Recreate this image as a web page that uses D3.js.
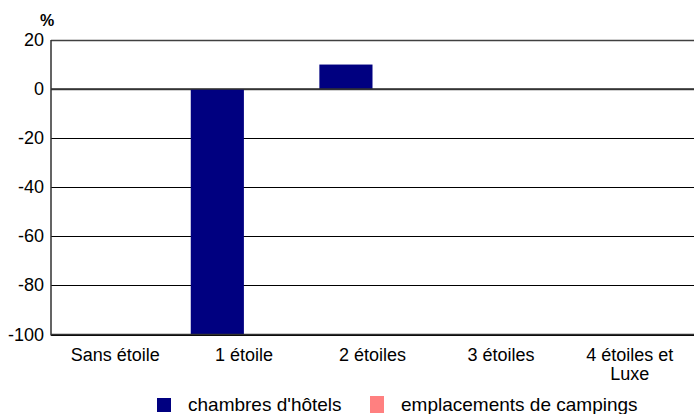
<!DOCTYPE html>
<html><head><meta charset="utf-8">
<script src="https://cdn.jsdelivr.net/npm/d3@7"></script>
<style>body{margin:0;background:#fff}svg{display:block}text{font-family:"Liberation Sans",Arial,sans-serif;fill:#000}</style>
</head><body>
<svg id="c" width="695" height="414"></svg>
<script>
const categories = ["Sans étoile", "1 étoile", "2 étoiles", "3 étoiles", "4 étoiles et Luxe"];
const categoryLines = [["Sans étoile"], ["1 étoile"], ["2 étoiles"], ["3 étoiles"], ["4 étoiles et", "Luxe"]];
const seriesNames = ["chambres d'hôtels", "emplacements de campings"];
const hotels = [null, -100, 10, null, null];
const campings = [null, null, null, null, null];
const yTicks = [20, 0, -20, -40, -60, -80, -100];
const colors = ["#000080", "#FF8080"];

const svg = d3.select("#c");
const m = {l: 51, r: 1, t: 40, b: 80};
const W = 695, H = 414;
const x0 = d3.scaleBand().domain(categories).range([m.l, W - m.r]);
const x1 = d3.scaleBand().domain(seriesNames).range([0, x0.bandwidth()]).paddingOuter(0.21);
const y = d3.scaleLinear().domain([-100, 20]).range([334.5, 40]);

// gridlines
svg.append("g").selectAll("line").data(yTicks).join("line")
  .attr("x1", m.l).attr("x2", W - m.r)
  .attr("y1", d => Math.round(y(d)) + 0.5).attr("y2", d => Math.round(y(d)) + 0.5)
  .attr("stroke", d => (d === 0 || d === 20) ? "#404040" : "#000")
  .attr("stroke-width", d => (d === 0 || d === 20) ? 1.5 : 1);

// bars
const data = [];
categories.forEach((c, i) => {
  [hotels, campings].forEach((s, j) => {
    if (s[i] !== null) data.push({c, s: seriesNames[j], v: s[i], col: colors[j]});
  });
});
svg.append("g").selectAll("rect").data(data).join("rect")
  .attr("x", d => x0(d.c) + x1(d.s))
  .attr("width", x1.bandwidth())
  .attr("y", d => y(Math.max(0, d.v)))
  .attr("height", d => Math.abs(y(d.v) - y(0)))
  .attr("fill", d => d.col);

// zero line on top
svg.append("line").attr("x1", m.l).attr("x2", W - m.r)
  .attr("y1", y(0)).attr("y2", y(0)).attr("stroke", "#303030").attr("stroke-width", 1.5);

// axes
svg.append("line").attr("x1", m.l).attr("x2", m.l).attr("y1", 40).attr("y2", 335.5)
  .attr("stroke", "#303030").attr("stroke-width", 1.5);
svg.append("line").attr("x1", m.l).attr("x2", W - m.r).attr("y1", y(-100)).attr("y2", y(-100))
  .attr("stroke", "#303030").attr("stroke-width", 1.5);

// y tick labels
svg.append("g").selectAll("text").data(yTicks).join("text")
  .attr("x", 44).attr("y", d => y(d) + 6)
  .attr("text-anchor", "end").attr("font-size", 18).text(d => d);

svg.append("text").attr("x", 47).attr("y", 26).attr("text-anchor", "middle")
  .attr("font-size", 16).attr("font-weight", "bold").text("%");

// x labels
const xl = svg.append("g").selectAll("text").data(categories).join("text")
  .attr("x", d => x0(d) + x0.bandwidth() / 2).attr("y", 361)
  .attr("text-anchor", "middle").attr("font-size", 18);
xl.each(function(d, i) {
  d3.select(this).selectAll("tspan").data(categoryLines[i]).join("tspan")
    .attr("x", x0(d) + x0.bandwidth() / 2).attr("dy", (t, k) => k === 0 ? 0 : 19).text(t => t);
});

// legend
const leg = [{n: seriesNames[0], c: colors[0], x: 157, y: 398, h: 14, tx: 188},
             {n: seriesNames[1], c: colors[1], x: 370, y: 396, h: 17, tx: 401}];
const lg = svg.append("g").selectAll("g").data(leg).join("g");
lg.append("rect").attr("x", d => d.x).attr("y", d => d.y).attr("width", 14).attr("height", d => d.h).attr("fill", d => d.c);
lg.append("text").attr("x", d => d.tx).attr("y", 411).attr("font-size", 19).text(d => d.n);
</script>
</body></html>
